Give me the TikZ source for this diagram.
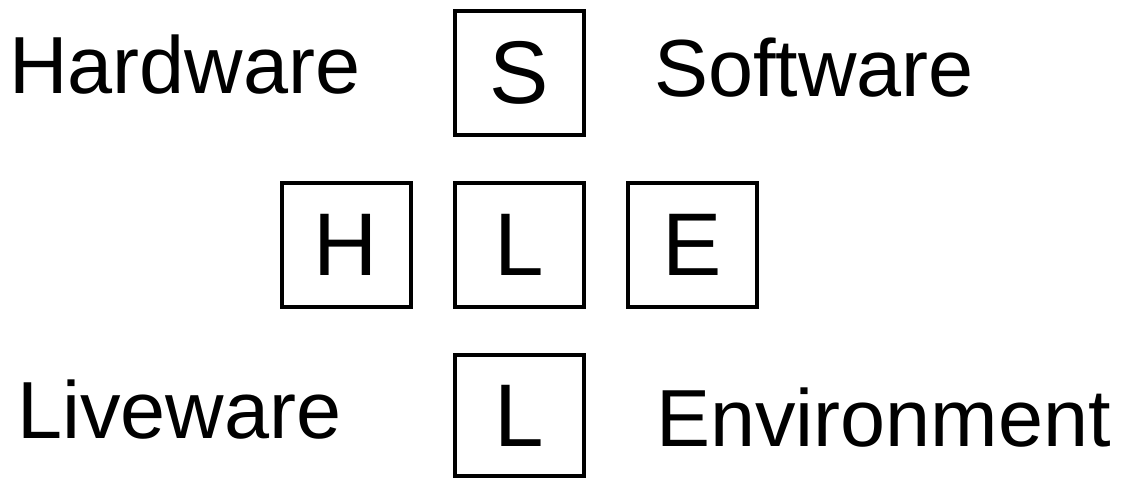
\documentclass[tikz,border=0pt]{standalone}
\usepackage{fontspec}
\setmainfont{Liberation Sans}
\usetikzlibrary{positioning}

\begin{document}
\begin{tikzpicture}[
    x=1pt, y=1pt,
    node distance=40pt,
    letterbox/.style={rectangle, draw, line width=4pt, minimum width=129pt, minimum height=124pt, inner sep=0pt, font=\fontsize{89}{100}\selectfont},
    term/.style={anchor=base west, inner sep=0pt, font=\fontsize{81}{92}\selectfont}
]
\useasboundingbox (0,0) rectangle (1126,478);

% SHELL model boxes
\node[letterbox] (lm) at (519,232.7) {L};
\node[letterbox, above=44.7pt of lm] (s) {S};
\node[letterbox, left=of lm] (h) {H};
\node[letterbox, right=of lm] (e) {E};
\node[letterbox, minimum height=121pt, below=44pt of lm] (lb) {L};

% Terms
\node[term] (hw) at (9,384) {Hardware};
\node[term] (sw) at (654,381) {Software};
\node[term] (lw) at (17,39) {Liveware};
\node[term] (env) at (656,31) {Environment};
\end{tikzpicture}
\end{document}
